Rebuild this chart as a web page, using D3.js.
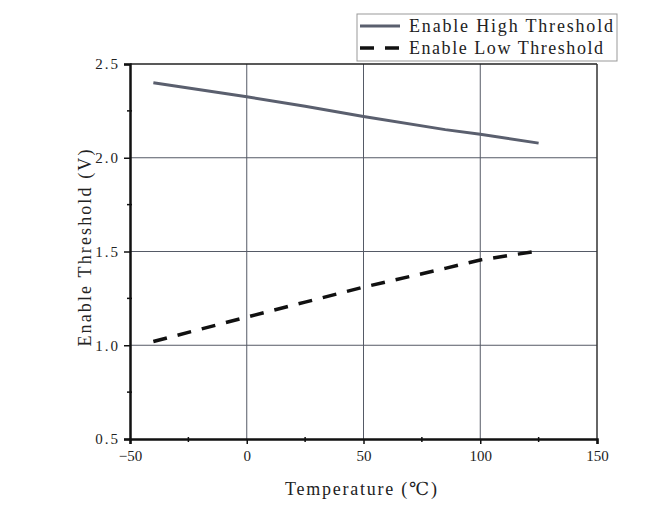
<!DOCTYPE html>
<html>
<head>
<meta charset="utf-8">
<script src="https://cdn.jsdelivr.net/npm/d3@7"></script>
<style>
  body { margin: 0; background: #fff; }
  text { font-family: "Liberation Serif", "DejaVu Serif", serif; fill: #222; }
</style>
</head>
<body>
<div id="chart"></div>
<script>
// data
const temps = [-40, 0, 25, 50, 85, 100, 125];
const highThreshold = [2.40, 2.325, 2.275, 2.22, 2.15, 2.125, 2.078];
const lowThreshold = [1.02, 1.15, 1.23, 1.31, 1.41, 1.455, 1.503];
const xTicks = [-50, 0, 50, 100, 150];
const yTicks = [0.5, 1.0, 1.5, 2.0, 2.5];
const seriesNames = ['Enable High Threshold', 'Enable Low Threshold'];

const W = 662, H = 521;
const m = { left: 130, right: 65, top: 64, bottom: 82 };

const svg = d3.select('#chart').append('svg').attr('width', W).attr('height', H);

const x = d3.scaleLinear().domain([-50, 150]).range([m.left, W - m.right]);
const y = d3.scaleLinear().domain([0.5, 2.5]).range([H - m.bottom, m.top]);

// grid
svg.append('g').selectAll('line').data(xTicks.slice(1, -1)).join('line')
  .attr('x1', d => x(d)).attr('x2', d => x(d))
  .attr('y1', y(2.5)).attr('y2', y(0.5))
  .attr('stroke', '#555a66').attr('stroke-width', 1);
svg.append('g').selectAll('line').data(yTicks.slice(1, -1)).join('line')
  .attr('x1', x(-50)).attr('x2', x(150))
  .attr('y1', d => y(d)).attr('y2', d => y(d))
  .attr('stroke', '#555a66').attr('stroke-width', 1);

// frame top/right
svg.append('line').attr('x1', x(-50)).attr('x2', x(150)).attr('y1', y(2.5)).attr('y2', y(2.5))
  .attr('stroke', '#222').attr('stroke-width', 1.5);
svg.append('line').attr('x1', x(150)).attr('x2', x(150)).attr('y1', y(2.5)).attr('y2', y(0.5))
  .attr('stroke', '#333').attr('stroke-width', 1.5);

// minor ticks
svg.append('g').selectAll('line').data([-25, 25, 75, 125]).join('line')
  .attr('x1', d => x(d)).attr('x2', d => x(d))
  .attr('y1', y(0.5) - 2).attr('y2', y(0.5) + 3)
  .attr('stroke', '#111').attr('stroke-width', 1.5);
svg.append('g').selectAll('line').data([0.75, 1.25, 1.75, 2.25]).join('line')
  .attr('x1', x(-50) - 3).attr('x2', x(-50) + 2)
  .attr('y1', d => y(d)).attr('y2', d => y(d))
  .attr('stroke', '#111').attr('stroke-width', 1.5);

// axes
const xAxis = svg.append('g').attr('transform', `translate(0,${y(0.5)})`)
  .call(d3.axisBottom(x).tickValues(xTicks).tickSize(5).tickPadding(6).tickFormat(d => d < 0 ? '\u2212' + (-d) : d));
const yAxis = svg.append('g').attr('transform', `translate(${x(-50)},0)`)
  .call(d3.axisLeft(y).tickValues(yTicks).tickSize(6).tickPadding(4).tickFormat(d3.format('.1f')));
[xAxis, yAxis].forEach(g => {
  g.select('.domain').attr('stroke', '#111').attr('stroke-width', 2.5);
  g.selectAll('.tick line').attr('stroke', '#111').attr('stroke-width', 1.5);
  g.selectAll('text').attr('font-size', 15).attr('fill', '#333')
    .style('font-family', '"Liberation Serif", serif');
});
yAxis.selectAll('text').attr('letter-spacing', 2);

// series
const line = d3.line().x(d => x(d[0])).y(d => y(d[1]));
svg.append('path').datum(d3.zip(temps, highThreshold))
  .attr('d', line).attr('fill', 'none').attr('stroke', '#5a5f6e').attr('stroke-width', 3);
svg.append('path').datum(d3.zip(temps, lowThreshold))
  .attr('d', line).attr('fill', 'none').attr('stroke', '#111').attr('stroke-width', 3.5)
  .attr('stroke-dasharray', '14,11');

// axis titles
svg.append('text').attr('x', 361).attr('y', 495).attr('text-anchor', 'middle')
  .attr('font-size', 18).attr('textLength', 152).attr('lengthAdjust', 'spacing')
  .text('Temperature (\u2103)');
svg.append('text').attr('transform', `translate(91,248) rotate(-90)`)
  .attr('text-anchor', 'middle').attr('font-size', 18)
  .attr('textLength', 197).attr('lengthAdjust', 'spacing')
  .text('Enable Threshold (V)');

// legend
const lg = svg.append('g');
lg.append('rect').attr('x', 357).attr('y', 14).attr('width', 260).attr('height', 47)
  .attr('fill', '#fff').attr('stroke', '#999').attr('stroke-width', 1);
const styles = [
  { stroke: '#5a5f6e', dash: null, w: 3 },
  { stroke: '#111', dash: '14,11', w: 3.5 }
];
const textLens = [204, 194];
seriesNames.forEach((name, i) => {
  const yy = 26 + i * 22;
  lg.append('line').attr('x1', 360).attr('x2', 400).attr('y1', yy).attr('y2', yy)
    .attr('stroke', styles[i].stroke).attr('stroke-width', styles[i].w)
    .attr('stroke-dasharray', styles[i].dash);
  lg.append('text').attr('x', 409).attr('y', yy + 6).attr('font-size', 18)
    .attr('textLength', textLens[i]).attr('lengthAdjust', 'spacing').text(name);
});
</script>
</body>
</html>
